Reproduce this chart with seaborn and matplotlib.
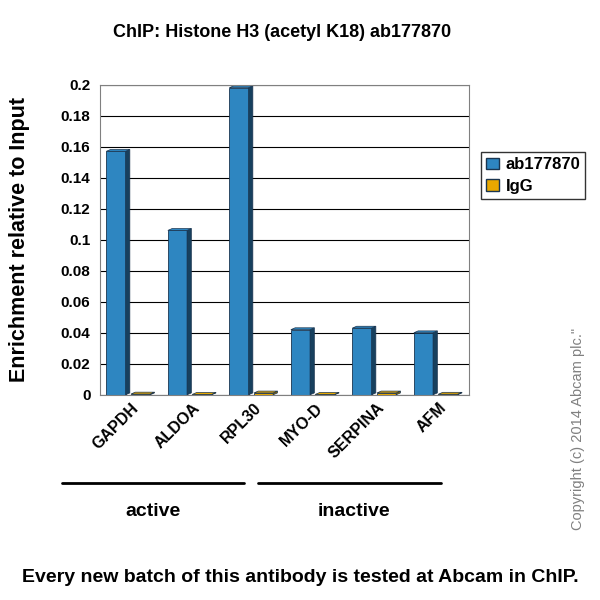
import matplotlib
matplotlib.use("Agg")
import matplotlib.pyplot as plt
import matplotlib.patches as mpatches
import pandas as pd
import seaborn as sns

genes = ["GAPDH", "ALDOA", "RPL30", "MYO-D", "SERPINA", "AFM"]
ab_values = [0.157, 0.106, 0.198, 0.042, 0.043, 0.040]
igg_values = [0.0005, 0.0003, 0.0012, 0.0003, 0.0012, 0.0004]
series = ["ab177870", "IgG"]
colors = ["#2e86c1", "#e8a800"]

df = pd.DataFrame({
    "gene": genes * 2,
    "value": ab_values + igg_values,
    "series": [series[0]] * 6 + [series[1]] * 6,
})

sns.set_style("white")
plt.rcParams["font.family"] = ["Liberation Sans", "DejaVu Sans"]
plt.rcParams["text.color"] = "black"
plt.rcParams["xtick.color"] = "black"
plt.rcParams["ytick.color"] = "black"
plt.rcParams["axes.labelcolor"] = "black"
fig = plt.figure(figsize=(6, 6), dpi=100)
ax = fig.add_axes([0.167, 0.342, 0.615, 0.517])

sns.barplot(data=df, x="gene", y="value", hue="series", palette=colors, saturation=1,
            width=0.8, gap=0.0, ax=ax, edgecolor="#1a3550", linewidth=0.6, legend=False)

# fake 3D side/top faces
dx, dy = 0.07, 0.0012
for bar, c in zip(ax.patches, [colors[0]] * 6 + [colors[1]] * 6):
    x0, y0, w, h = bar.get_x(), bar.get_y(), bar.get_width(), bar.get_height()
    w = w * 0.78
    bar.set_width(w)
    side = mpatches.Polygon([(x0 + w, y0), (x0 + w + dx, y0 + dy), (x0 + w + dx, y0 + h + dy), (x0 + w, y0 + h)],
                            closed=True, facecolor="#17405e" if c == colors[0] else "#8a6500",
                            edgecolor="#1a3550", linewidth=0.5)
    top = mpatches.Polygon([(x0, y0 + h), (x0 + dx, y0 + h + dy), (x0 + w + dx, y0 + h + dy), (x0 + w, y0 + h)],
                           closed=True, facecolor=c, edgecolor="#1a3550", linewidth=0.5)
    ax.add_patch(side)
    ax.add_patch(top)

ax.set_ylim(0, 0.2)
ax.set_xlim(-0.5, 5.5)
ax.set_yticks([i / 100 for i in range(0, 21, 2)])
ax.set_yticklabels(["0", "0.02", "0.04", "0.06", "0.08", "0.1", "0.12", "0.14", "0.16", "0.18", "0.2"],
                   fontsize=11, fontweight="bold")
ax.yaxis.grid(True, color="black", linewidth=0.8)
ax.set_axisbelow(True)
for s in ax.spines.values():
    s.set_color("gray")
ax.set_xlabel("")
ax.set_ylabel("Enrichment relative to Input", fontsize=15.5, fontweight="bold", labelpad=22)
ax.set_xticks(range(6))
ax.set_xticklabels(genes, rotation=45, ha="right", rotation_mode="anchor", fontsize=11.5, fontweight="bold")
ax.tick_params(axis="x", length=0, pad=4)

fig.text(0.47, 0.938, "ChIP: Histone H3 (acetyl K18) ab177870", ha="center", fontsize=13, fontweight="bold")

handles = [mpatches.Patch(facecolor=c, edgecolor="#1a3550", label=l) for c, l in zip(colors, series)]
fig.legend(handles=handles, loc="upper left", bbox_to_anchor=(0.787, 0.76),
           prop={"weight": "bold", "size": 12}, frameon=True, fancybox=False, edgecolor="black",
           handlelength=0.8, handletextpad=0.4, borderpad=0.3, labelspacing=0.4)

fig.add_artist(plt.Line2D([0.103, 0.407], [0.195, 0.195], color="black", lw=2))
fig.add_artist(plt.Line2D([0.43, 0.735], [0.195, 0.195], color="black", lw=2))
fig.text(0.255, 0.14, "active", ha="center", fontsize=14, fontweight="bold")
fig.text(0.59, 0.14, "inactive", ha="center", fontsize=14, fontweight="bold")
fig.text(0.963, 0.285, "Copyright (c) 2014 Abcam plc.\"", rotation=90, ha="center", va="center",
         fontsize=10.5, color="gray")
fig.text(0.5, 0.03, "Every new batch of this antibody is tested at Abcam in ChIP.", ha="center",
         fontsize=14, fontweight="bold")

fig.savefig("out.png", dpi=100)
